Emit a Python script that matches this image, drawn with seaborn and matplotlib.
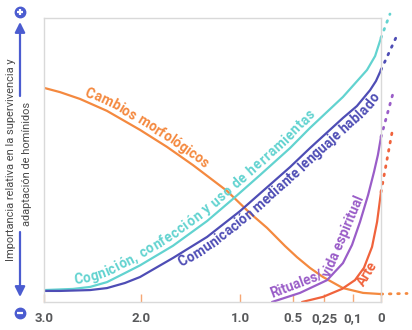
import numpy as np
import matplotlib
matplotlib.use("Agg")
import matplotlib.pyplot as plt
import seaborn as sns
from matplotlib.font_manager import FontProperties
from matplotlib.transforms import IdentityTransform
from matplotlib.lines import Line2D
from matplotlib.patches import FancyArrowPatch

# ---------------- data (millions of years ago, relative importance 0-100) ----------------
tick_ma = [3.0, 2.0, 1.0, 0.5, 0.25, 0.1, 0.0]
tick_labels = ["3.0", "2.0", "1.0", "0.5", "0,25", "0,1", "0"]

morf_ma = [3.0, 2.835, 2.629, 2.351, 2.010, 1.737, 1.475, 1.131, 0.906, 0.745, 0.575, 0.468,
           0.363, 0.258, 0.152, 0.064, 0.0]
morf_val = [75.4, 73.9, 71.5, 67.3, 60.6, 54.6, 48.2, 39.1, 31.3, 26.1, 19.7, 15.8,
            12.0, 8.8, 4.9, 3.2, 2.8]
morf_fut_ma = [0.0, -0.093]
morf_fut_val = [2.8, 3.0]

cogn_ma = [3.0, 2.701, 2.526, 2.351, 2.165, 2.010, 1.677, 1.333, 1.071, 0.811, 0.528, 0.363,
           0.152, 0.050, 0.021, 0.0]
cogn_val = [4.2, 4.6, 5.3, 7.0, 10.2, 12.9, 19.8, 28.5, 36.3, 44.7, 54.2, 61.3,
            72.2, 81.7, 86.6, 93.0]
cogn_fut_ma = [0.0, -0.032]
cogn_fut_val = [93.0, 101.4]

comu_ma = [3.0, 2.835, 2.526, 2.351, 2.165, 2.010, 1.677, 1.333, 1.0, 0.528, 0.363, 0.152,
           0.086, 0.039, 0.018, 0.0]
comu_val = [3.9, 3.9, 4.2, 4.9, 6.7, 8.8, 15.5, 22.9, 32.0, 47.5, 54.2, 64.8,
            69.0, 74.6, 77.8, 81.7]
comu_fut_ma = [0.0, -0.061]
comu_fut_val = [81.7, 94.7]

ritu_ma = [0.698, 0.444, 0.234, 0.152, 0.105, 0.075, 0.046, 0.025, 0.011, 0.0]
ritu_val = [0.0, 3.2, 7.7, 13.7, 20.1, 28.2, 37.7, 45.8, 51.8, 58.1]
ritu_fut_ma = [0.0, -0.046]
ritu_fut_val = [58.1, 74.6]

arte_ma = [0.427, 0.258, 0.157, 0.093, 0.061, 0.032, 0.014, 0.0]
arte_val = [0.0, 1.8, 4.6, 7.7, 12.0, 19.4, 28.2, 38.7]
arte_fut_ma = [0.0, -0.039]
arte_fut_val = [38.7, 59.5]

labels = {
    "morf": "Cambios morfológicos",
    "cogn": "Cognición, confección y uso de herramientas",
    "comu": "Comunicación mediante lenguaje hablado",
    "ritu": ["Rituales/", "vida espiritual"],
    "arte": "Arte",
}
ylabel1 = "Importancia relativa en la supervivencia y"
ylabel2 = "adaptación de homínidos"

# ---------------- styling / layout ----------------
C_MORF = "#F4893F"
C_COGN = "#62D3D0"
C_COMU = "#4E4DB5"
C_RITU = "#9A5DC8"
C_ARTE = "#F0633C"
C_TICK = "#F6A774"
C_TXT = "#58595B"
C_ARROW = "#4B5CD0"
FONT = "Roboto"

# non-linear time axis: Ma -> horizontal position (layout)
pos_ma = [-0.1, 0.0, 0.1, 0.25, 0.5, 1.0, 2.0, 3.0]
pos_px = [365, 337, 309, 280, 249, 196, 97, 0]


def to_pos(ma):
    return np.interp(np.asarray(ma, dtype=float), pos_ma, pos_px)


sns.set_theme(style="white")
plt.rcParams["font.family"] = [FONT, "DejaVu Sans"]

W, H = 412, 330
fig = plt.figure(figsize=(W / 100, H / 100), dpi=100)
ax = fig.add_axes([44 / W, 28 / H, 337 / W, 284 / H])

series = [
    (morf_ma, morf_val, morf_fut_ma, morf_fut_val, C_MORF),
    (cogn_ma, cogn_val, cogn_fut_ma, cogn_fut_val, C_COGN),
    (comu_ma, comu_val, comu_fut_ma, comu_fut_val, C_COMU),
    (ritu_ma, ritu_val, ritu_fut_ma, ritu_fut_val, C_RITU),
    (arte_ma, arte_val, arte_fut_ma, arte_fut_val, C_ARTE),
]
for ma, val, fma, fval, col in series:
    sns.lineplot(x=to_pos(ma), y=val, ax=ax, color=col, lw=1.6, sort=False, estimator=None)
    ax.lines[-1].set_solid_joinstyle("round")
    sns.lineplot(x=to_pos(fma), y=fval, ax=ax, color=col, lw=2.0, sort=False, estimator=None,
                 linestyle=(0, (0.6, 2.4)), dash_capstyle="round")
    ax.lines[-1].set_clip_on(False)

ax.set_xlim(0, 337)
ax.set_ylim(0, 100)
ax.set_xticks(to_pos(tick_ma))
ax.set_xticklabels(tick_labels)
ax.set_yticks([])
ax.set_xlabel("")
ax.set_ylabel("")
ax.tick_params(axis="x", direction="in", length=6, width=1, color=C_TICK, pad=7,
               labelsize=9.5, labelcolor=C_TXT, bottom=True)
for lab in ax.get_xticklabels():
    lab.set_fontweight("bold")
for sp in ax.spines.values():
    sp.set_color("#D9D9D9")
    sp.set_linewidth(1.0)
    sp.set_visible(True)

# ---------------- text along curves ----------------
renderer = fig.canvas.get_renderer()
LABEL_FP = dict(family=[FONT, "DejaVu Sans"], size=9.8, weight="bold")


def text_on_curve(ma, val, text, start_px, offset, color, win=10, track=0.0):
    fp = FontProperties(**LABEL_FP)
    pts = ax.transData.transform(np.column_stack([to_pos(ma), val]))
    seg = np.diff(pts, axis=0)
    cum = np.concatenate([[0], np.cumsum(np.hypot(seg[:, 0], seg[:, 1]))])
    s = np.interp(start_px, pts[:, 0], cum)
    base_w = renderer.get_text_width_height_descent("xx", fp, ismath=False)[0]
    for ch in text:
        w = renderer.get_text_width_height_descent("x" + ch + "x", fp, ismath=False)[0] - base_w + track
        sc = s + w / 2
        x0 = np.interp(sc, cum, pts[:, 0]); y0 = np.interp(sc, cum, pts[:, 1])
        xa = np.interp(sc - win, cum, pts[:, 0]); ya = np.interp(sc - win, cum, pts[:, 1])
        xb = np.interp(sc + win, cum, pts[:, 0]); yb = np.interp(sc + win, cum, pts[:, 1])
        dx, dy = xb - xa, yb - ya
        n = np.hypot(dx, dy)
        nx, ny = -dy / n, dx / n
        ang = np.degrees(np.arctan2(dy, dx))
        ax.text(x0 + nx * offset, y0 + ny * offset, ch, transform=IdentityTransform(),
                rotation=ang, rotation_mode="anchor", ha="center", va="baseline",
                fontproperties=fp, color=color, clip_on=False)
        s += w


text_on_curve(morf_ma, morf_val, labels["morf"], 82, 4.5, C_MORF)
text_on_curve(cogn_ma, cogn_val, labels["cogn"], 75, 5, C_COGN, track=0.6)
text_on_curve(comu_ma, comu_val, labels["comu"], 175, -12.5, C_COMU)


def fx(px):
    return px / W


def fy(py):
    return 1 - py / H


# "Rituales/vida espiritual" in two straight pieces, "Arte" straight
fig.text(fx(296), fy(284), labels["ritu"][0], rotation=21, ha="center", va="center",
         rotation_mode="anchor", fontproperties=FontProperties(**LABEL_FP), color=C_RITU)
fig.text(fx(344), fy(236), labels["ritu"][1], rotation=67, ha="center", va="center",
         rotation_mode="anchor", fontproperties=FontProperties(**LABEL_FP), color=C_RITU)
fig.text(fx(367), fy(274), labels["arte"], rotation=58, ha="center", va="center",
         rotation_mode="anchor", fontproperties=FontProperties(**LABEL_FP), color=C_ARTE)

# ---------------- left importance arrow ----------------
for a, b in [((20, 96), (20, 22)), ((20, 232), (20, 297))]:
    arr = FancyArrowPatch((fx(a[0]), fy(a[1])), (fx(b[0]), fy(b[1])), transform=fig.transFigure,
                          arrowstyle="-|>,head_length=0.6,head_width=0.3", mutation_scale=10,
                          lw=1.6, color=C_ARROW, shrinkA=0, shrinkB=0)
    fig.add_artist(arr)

for py, sym in [(12, "+"), (313, "_")]:
    fig.add_artist(Line2D([fx(19.5)], [fy(py)], transform=fig.transFigure, marker="o", ms=7.5,
                          color=C_ARROW, mec=C_ARROW, lw=0))
    fig.add_artist(Line2D([fx(19.5)], [fy(py)], transform=fig.transFigure, marker=sym, ms=4.5,
                          mew=1.6, color="white", lw=0))

fig.text(fx(11), fy(160), ylabel1, rotation=90, ha="center", va="center", fontsize=7.9, color="#4A4A4A")
fig.text(fx(27.5), fy(164), ylabel2, rotation=90, ha="center", va="center", fontsize=7.9, color="#4A4A4A")

fig.savefig("out.png", dpi=100)
